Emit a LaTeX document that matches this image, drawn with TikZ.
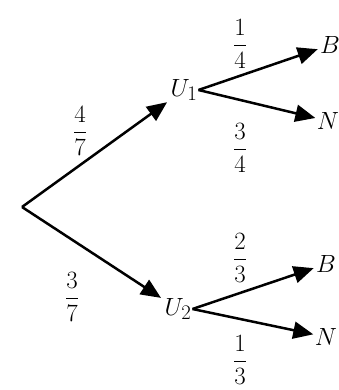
\documentclass[tikz,border=0pt]{standalone}
\usepackage{amsmath}
\usetikzlibrary{arrows.meta}
\begin{document}
\begin{tikzpicture}[x=1pt,y=-1pt,
  every node/.style={font=\fontsize{24.88}{30}\selectfont, inner sep=1pt},
  br/.style={line width=2.5pt, -{Triangle[length=20pt,width=17pt]}}]
\useasboundingbox (0,0) rectangle (339,390);
\coordinate (r) at (22,207);
\node (U1) at (184,90) {$U_1$};
\node (U2) at (178,309) {$U_2$};
\node (B1) at (330,45) {$B$};
\node (N1) at (328,121) {$N$};
\node (B2) at (326,264) {$B$};
\node (N2) at (326,337) {$N$};
\draw[br, shorten >=3pt] (r) -- (U1);
\draw[br, shorten >=3pt] (r) -- (U2);
\draw[br, shorten >=13pt] (U1.east) -- (B1.center);
\draw[br, shorten >=13pt] (U1.east) -- (N1.center);
\draw[br, shorten >=13pt] (U2.east) -- (B2.center);
\draw[br, shorten >=13pt] (U2.east) -- (N2.center);
\node (f47) at (80,131) {$\dfrac{4}{7}$};
\node (f37) at (72,297) {$\dfrac{3}{7}$};
\node (f14) at (240,44) {$\dfrac{1}{4}$};
\node (f34) at (240,148) {$\dfrac{3}{4}$};
\node (f23) at (240,258) {$\dfrac{2}{3}$};
\node (f13) at (240,360) {$\dfrac{1}{3}$};
\end{tikzpicture}
\end{document}
